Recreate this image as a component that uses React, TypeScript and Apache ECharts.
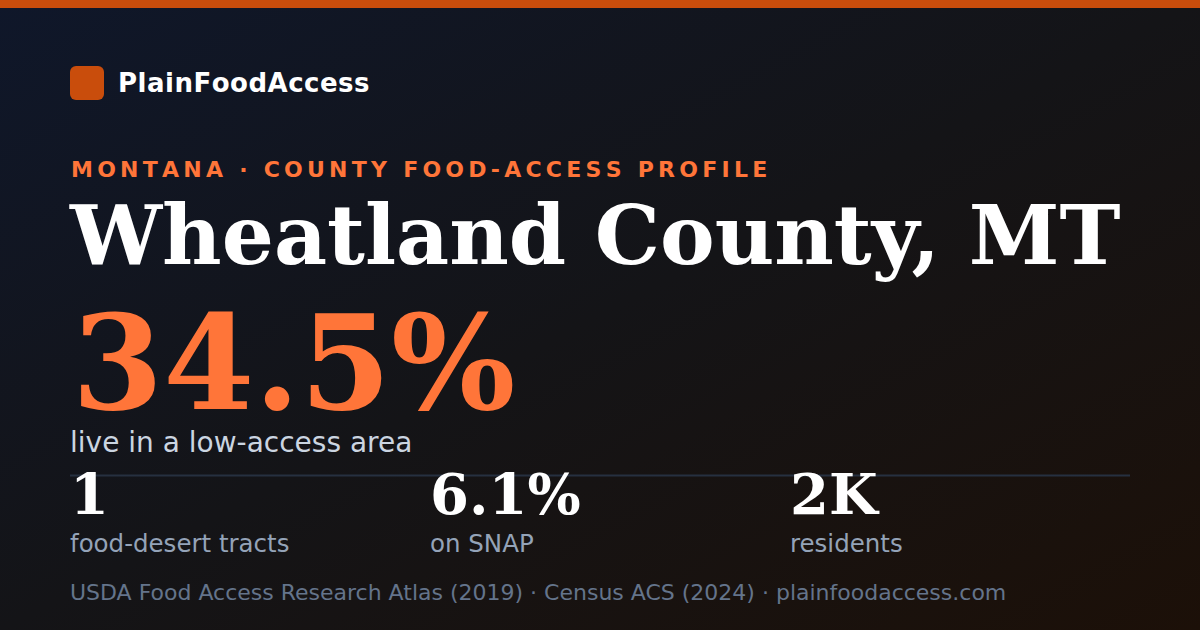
import React, { useEffect, useRef } from "react";
import * as echarts from "echarts";

const brand = "PlainFoodAccess";
const eyebrow = "MONTANA · COUNTY FOOD-ACCESS PROFILE";
const countyName = "Wheatland County, MT";
const headlineValue = "34.5%";
const headlineLabel = "live in a low-access area";
const statValues = ["1", "6.1%", "2K"];
const statLabels = ["food-desert tracts", "on SNAP", "residents"];
const footer = "USDA Food Access Research Atlas (2019) · Census ACS (2024) · plainfoodaccess.com";

const SANS = "'DejaVu Sans', sans-serif";
const SERIF = "'DejaVu Serif', serif";

function txt(text: string, x: number, baseline: number, size: number, weight: string, family: string, fill: string) {
  return {
    type: "text",
    silent: true,
    style: {
      text,
      x,
      y: baseline - 0.346 * size,
      font: `${weight} ${size}px ${family}`,
      fill,
      textAlign: "left",
      textVerticalAlign: "middle",
    },
  };
}

function spaced(text: string, x: number, baseline: number, size: number, weight: string, family: string, fill: string, spacing: number) {
  const c = document.createElement("canvas").getContext("2d")!;
  c.font = `${weight} ${size}px ${family}`;
  const out: any[] = [];
  let cx = x;
  for (const ch of text) {
    out.push(txt(ch, cx, baseline, size, weight, family, fill));
    cx += c.measureText(ch).width + spacing;
  }
  return out;
}

export default function App() {
  const ref = useRef<HTMLDivElement>(null);
  useEffect(() => {
    document.body.style.margin = "0";
    const chart = echarts.init(ref.current!, null, { renderer: "svg" });
    const statX = [70, 430, 790];
    const elements: any[] = [
      {
        type: "rect",
        silent: true,
        shape: { x: 0, y: 0, width: 1200, height: 630 },
        style: {
          fill: new echarts.graphic.LinearGradient(0, 0, 1, 1, [
            { offset: 0, color: "#0f172a" },
            { offset: 0.5, color: "#141417" },
            { offset: 1, color: "#1c1008" },
          ]),
        },
      },
      { type: "rect", silent: true, shape: { x: 0, y: 0, width: 1200, height: 8 }, style: { fill: "#c94d0c" } },
      { type: "rect", silent: true, shape: { x: 70, y: 66, width: 34, height: 34, r: 6 }, style: { fill: "#c94d0c" } },
      ...spaced(brand, 118, 92, 26, "bold", SANS, "#ffffff", 0.5),
      ...spaced(eyebrow, 71, 177.5, 22, "bold", SANS, "#ff7539", 4.25),
      txt(countyName, 70, 263, 82, "bold", SERIF, "#ffffff"),
      txt(headlineValue, 72, 408, 131, "bold", SERIF, "#ff7539"),
      txt(headlineLabel, 70, 452, 28, "normal", SANS, "#cbd5e1"),
      { type: "line", silent: true, shape: { x1: 70, y1: 475.5, x2: 1130, y2: 475.5 }, style: { stroke: "#263040", lineWidth: 2 } },
      ...statValues.map((v, i) => txt(v, statX[i], 513, 56, "bold", SERIF, "#ffffff")),
      ...statLabels.map((l, i) => txt(l, statX[i], 552, 24.5, "normal", SANS, "#94a3b8")),
      txt(footer, 70, 600, 22, "normal", SANS, "#64748b"),
    ];
    chart.setOption({ animation: false, graphic: { elements } });
    return () => chart.dispose();
  }, []);
  return <div ref={ref} style={{ width: 1200, height: 630 }} />;
}
